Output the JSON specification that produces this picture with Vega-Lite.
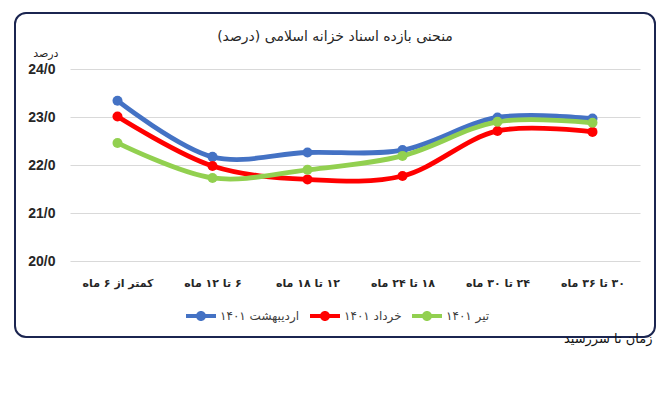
{
  "$schema": "https://vega.github.io/schema/vega-lite/v6.json",
  "width": 640,
  "height": 324,
  "autosize": {"type": "none"},
  "padding": {"left": 15, "top": 13, "right": 13, "bottom": 58},
  "background": "white",
  "config": {
    "view": {"stroke": "#1B2550", "strokeWidth": 2, "cornerRadius": 11, "fill": "white"},
    "font": "DejaVu Sans"
  },
  "title": {
    "text": "منحنی بازده اسناد خزانه اسلامی (درصد)",
    "anchor": "middle",
    "fontSize": 14,
    "fontWeight": "normal",
    "color": "#262626",
    "offset": 0,
    "baseline": "middle",
    "dy": 38
  },
  "data": {
    "values": [
      {"series": "اردیبهشت ۱۴۰۱", "term": "کمتر از ۶ ماه", "rate": 23.34},
      {"series": "اردیبهشت ۱۴۰۱", "term": "۶ تا ۱۲ ماه", "rate": 22.17},
      {"series": "اردیبهشت ۱۴۰۱", "term": "۱۲ تا ۱۸ ماه", "rate": 22.26},
      {"series": "اردیبهشت ۱۴۰۱", "term": "۱۸ تا ۲۴ ماه", "rate": 22.31},
      {"series": "اردیبهشت ۱۴۰۱", "term": "۲۴ تا ۳۰ ماه", "rate": 22.99},
      {"series": "اردیبهشت ۱۴۰۱", "term": "۳۰ تا ۳۶ ماه", "rate": 22.97},
      {"series": "خرداد ۱۴۰۱", "term": "کمتر از ۶ ماه", "rate": 23.01},
      {"series": "خرداد ۱۴۰۱", "term": "۶ تا ۱۲ ماه", "rate": 21.98},
      {"series": "خرداد ۱۴۰۱", "term": "۱۲ تا ۱۸ ماه", "rate": 21.70},
      {"series": "خرداد ۱۴۰۱", "term": "۱۸ تا ۲۴ ماه", "rate": 21.77},
      {"series": "خرداد ۱۴۰۱", "term": "۲۴ تا ۳۰ ماه", "rate": 22.71},
      {"series": "خرداد ۱۴۰۱", "term": "۳۰ تا ۳۶ ماه", "rate": 22.69},
      {"series": "تیر ۱۴۰۱", "term": "کمتر از ۶ ماه", "rate": 22.46},
      {"series": "تیر ۱۴۰۱", "term": "۶ تا ۱۲ ماه", "rate": 21.73},
      {"series": "تیر ۱۴۰۱", "term": "۱۲ تا ۱۸ ماه", "rate": 21.90},
      {"series": "تیر ۱۴۰۱", "term": "۱۸ تا ۲۴ ماه", "rate": 22.19},
      {"series": "تیر ۱۴۰۱", "term": "۲۴ تا ۳۰ ماه", "rate": 22.90},
      {"series": "تیر ۱۴۰۱", "term": "۳۰ تا ۳۶ ماه", "rate": 22.88}
    ]
  },
  "encoding": {
    "x": {
      "field": "term",
      "type": "nominal",
      "sort": ["کمتر از ۶ ماه", "۶ تا ۱۲ ماه", "۱۲ تا ۱۸ ماه", "۱۸ تا ۲۴ ماه", "۲۴ تا ۳۰ ماه", "۳۰ تا ۳۶ ماه"],
      "scale": {"type": "point", "range": [55, 625], "padding": 0.5},
      "axis": {
        "orient": "bottom",
        "domain": false,
        "ticks": false,
        "tickSize": 0,
        "grid": false,
        "labelAngle": 0,
        "labelExpr": "'\u200f' + datum.label",
        "labelPadding": -60,
        "labelFontSize": 11,
        "labelFontWeight": "bold",
        "labelColor": "#262626",
        "title": "زمان تا سررسید",
        "titleX": 637,
        "titleY": 1,
        "titleAlign": "right",
        "titleAnchor": null,
        "titleBaseline": "middle",
        "titleFontSize": 13,
        "titleFontWeight": "normal",
        "titleColor": "#111111"
      }
    },
    "y": {
      "field": "rate",
      "type": "quantitative",
      "scale": {"domain": [18.4167, 25.1667], "nice": false, "zero": false},
      "axis": {
        "orient": "left",
        "values": [20, 21, 22, 23, 24],
        "labelExpr": "replace(format(datum.value, '.1f'), '.', '/')",
        "domain": false,
        "ticks": false,
        "tickSize": 0,
        "labelPadding": -40,
        "labelFont": "Liberation Sans",
        "labelFontSize": 14,
        "labelFontWeight": "bold",
        "labelColor": "#262626",
        "grid": true,
        "gridColor": "#D9D9D9",
        "gridWidth": 1.2,
        "title": "درصد",
        "titleAngle": 0,
        "titleX": 43,
        "titleY": 40,
        "titleAlign": "right",
        "titleAnchor": null,
        "titleBaseline": "middle",
        "titleFontSize": 11,
        "titleFontWeight": "normal",
        "titleColor": "#262626"
      }
    },
    "color": {
      "field": "series",
      "type": "nominal",
      "scale": {
        "domain": ["اردیبهشت ۱۴۰۱", "خرداد ۱۴۰۱", "تیر ۱۴۰۱"],
        "range": ["#4472C4", "#FF0000", "#92D050"]
      },
      "legend": {
        "orient": "none",
        "legendX": 180,
        "legendY": 297,
        "direction": "horizontal",
        "title": null,
        "padding": 0,
        "symbolType": "M -3 -0.4 L 3 -0.4 L 3 0.4 L -3 0.4 Z M 1 0 A 1 1 0 1 1 -1 0 A 1 1 0 1 1 1 0 Z",
        "symbolSize": 100,
        "symbolStrokeWidth": 0,
        "labelOffset": 13,
        "columnPadding": 10,
        "labelFontSize": 12,
        "labelColor": "#404040",
        "encode": {
          "symbols": {
            "update": {
              "fill": {"scale": "color", "field": "value"},
              "fillOpacity": {"value": 1},
              "strokeWidth": {"value": 0}
            }
          }
        }
      }
    }
  },
  "layer": [
    {"mark": {"type": "line", "interpolate": "catmull-rom", "strokeWidth": 4.8}},
    {"mark": {"type": "point", "filled": true, "size": 100, "opacity": 1}}
  ]
}
